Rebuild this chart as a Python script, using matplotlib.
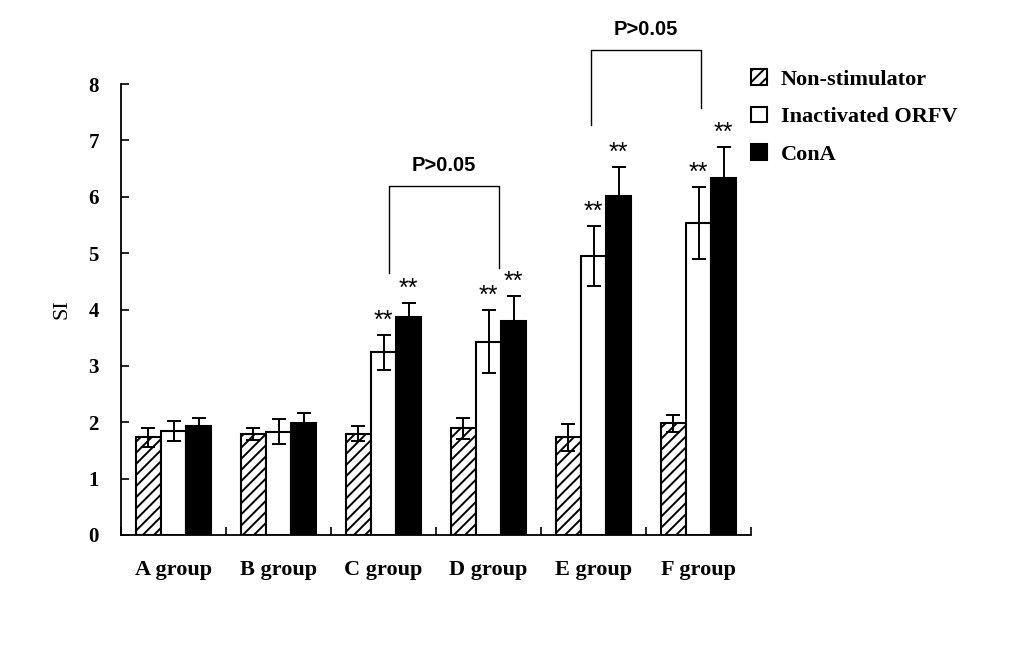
import matplotlib
matplotlib.use('Agg')
import matplotlib.pyplot as plt
import numpy as np

# Data
groups = ['A group', 'B group', 'C group', 'D group', 'E group', 'F group']
series = ['Non-stimulator', 'Inactivated ORFV', 'ConA']
non_stim = [1.73, 1.79, 1.80, 1.89, 1.73, 1.98]
non_stim_err = [0.17, 0.11, 0.14, 0.19, 0.24, 0.15]
orfv = [1.85, 1.83, 3.24, 3.43, 4.95, 5.54]
orfv_err = [0.18, 0.22, 0.31, 0.56, 0.53, 0.64]
cona = [1.94, 1.98, 3.86, 3.80, 6.01, 6.33]
cona_err = [0.14, 0.19, 0.26, 0.44, 0.52, 0.55]
# which groups carry "**" marks (ORFV and ConA)
starred = [False, False, True, True, True, True]

plt.rcParams['font.family'] = ['Liberation Serif', 'DejaVu Serif']
plt.rcParams['hatch.linewidth'] = 1.4

fig = plt.figure(figsize=(10.22, 6.55), dpi=100)
ax = fig.add_axes([121/1022, 1 - 535/655, (751 - 121)/1022, (535 - 84)/655])

x = np.arange(len(groups))
w = 0.24
err_kw = dict(ecolor='black', elinewidth=1.4, capsize=5, capthick=1.4)
ax.bar(x - w, non_stim, w, yerr=non_stim_err, color='white', edgecolor='black',
       hatch='///', linewidth=1.5, error_kw=err_kw, label=series[0])
ax.bar(x, orfv, w, yerr=orfv_err, color='white', edgecolor='black',
       linewidth=1.5, error_kw=err_kw, label=series[1])
ax.bar(x + w, cona, w, yerr=cona_err, color='black', edgecolor='black',
       linewidth=1.5, error_kw=err_kw, label=series[2])

# significance stars
for i in range(len(groups)):
    if starred[i]:
        ax.text(x[i], orfv[i] + orfv_err[i] + 0.25, '**', ha='center', va='center',
                fontsize=18, family='Liberation Sans')
        ax.text(x[i] + w, cona[i] + cona_err[i] + 0.25, '**', ha='center', va='center',
                fontsize=18, family='Liberation Sans')

# brackets P>0.05
brackets = [(2.05, 3.10, 4.65, 4.73, 6.19), (3.98, 5.02, 7.27, 7.57, 8.61)]
for x1, x2, y1, y2, top in brackets:
    ax.plot([x1, x1, x2, x2], [y1, top, top, y2], color='black', lw=1.0, clip_on=False)
    ax.text((x1 + x2) / 2, top + 0.36, 'P>0.05', ha='center', va='center',
            fontsize=14.5, fontweight='bold', family='Liberation Sans')

ax.set_xlim(-0.5, 5.5)
ax.set_ylim(0, 8)
ax.set_yticks(range(9))
ax.set_xticks(x)
ax.set_xticklabels(groups, fontsize=16, fontweight='bold')
ax.set_xticks(np.arange(-0.5, 6, 1), minor=True)
ax.tick_params(axis='x', which='major', length=0, pad=18)
ax.tick_params(axis='x', which='minor', direction='in', length=6, width=1.2)
ax.tick_params(axis='y', direction='in', length=6, width=1.2, pad=16, labelsize=15)
for lab in ax.get_yticklabels():
    lab.set_fontweight('bold')

ax.spines['top'].set_visible(False)
ax.spines['right'].set_visible(False)
ax.spines['left'].set_linewidth(1.3)
ax.spines['bottom'].set_linewidth(1.3)

ax.set_ylabel('SI', fontsize=16)
ax.yaxis.set_label_coords(-50/630, 0.5)

ax.legend(loc='upper left', bbox_to_anchor=(751/1022, 1 - 69/655),
          bbox_transform=fig.transFigure, frameon=False, borderpad=0,
          borderaxespad=0, handlelength=0.72, handleheight=0.72,
          handletextpad=0.62, labelspacing=0.76,
          prop={'size': 16, 'weight': 'bold', 'family': 'Liberation Serif'})

fig.savefig('out.png', dpi=100)
